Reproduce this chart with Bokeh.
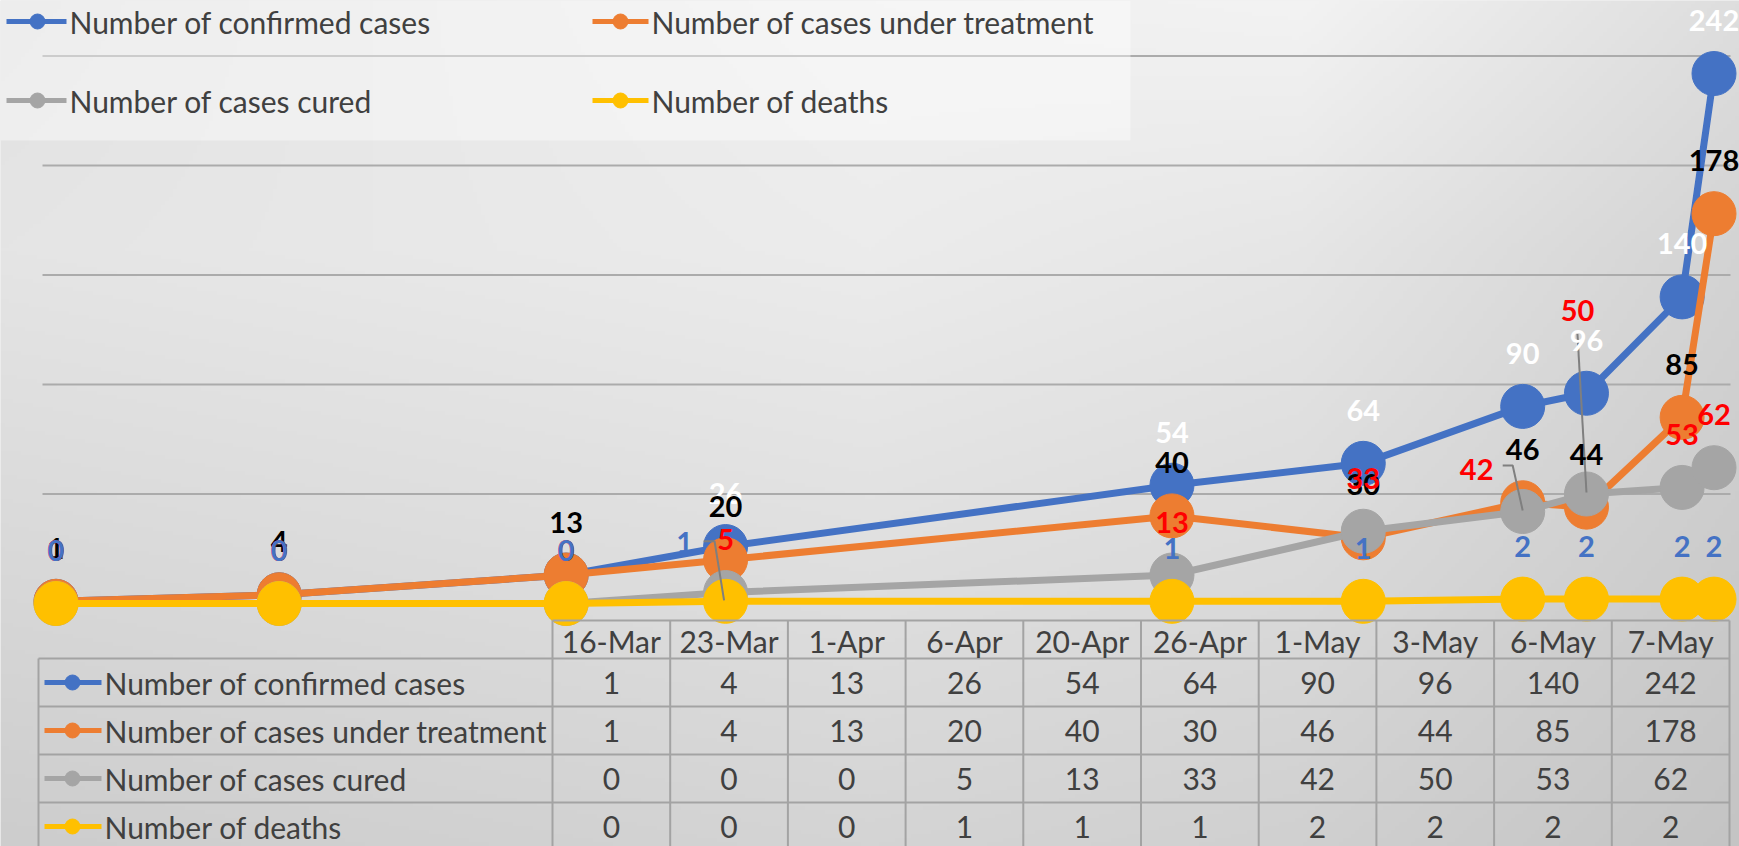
import numpy as np
import pandas as pd
from bokeh.plotting import figure
from bokeh.models import Range1d, ColumnDataSource
from bokeh.core.properties import value
from bokeh.embed import file_html
from bokeh.resources import INLINE

# ---------------- data ----------------
dates = ["2020-03-16", "2020-03-23", "2020-04-01", "2020-04-06", "2020-04-20",
         "2020-04-26", "2020-05-01", "2020-05-03", "2020-05-06", "2020-05-07"]
date_labels = ["16-Mar", "23-Mar", "1-Apr", "6-Apr", "20-Apr",
               "26-Apr", "1-May", "3-May", "6-May", "7-May"]
series_names = ["Number of confirmed cases", "Number of cases under treatment",
                "Number of cases cured", "Number of deaths"]
confirmed = [1, 4, 13, 26, 54, 64, 90, 96, 140, 242]
treatment = [1, 4, 13, 20, 40, 30, 46, 44, 85, 178]
cured = [0, 0, 0, 5, 13, 33, 42, 50, 53, 62]
deaths = [0, 0, 0, 1, 1, 1, 2, 2, 2, 2]
y_ticks = [50, 100, 150, 200, 250]

series = [confirmed, treatment, cured, deaths]

# ---------------- style / layout ----------------
colors = ["#4472C4", "#ED7D31", "#A5A5A5", "#FFC000"]
label_colors = ["#FFFFFF", "#000000", "#FF0000", "#4472C4"]
FONT = "Lato"
TXT = "#404040"
TFS = "30px"

W, H = 1739, 846
PAGE = 0
X0_REF, X1_REF = 55.5, 1713.5
Y0_REF, PXU = 603.0, 2.19

days = (pd.to_datetime(dates) - pd.to_datetime(dates[0])).days.to_numpy().astype(float)
PXD = (X1_REF - X0_REF) / (days[-1] - days[0])
x_start = days[0] - (X0_REF - PAGE) / PXD
x_end = x_start + W / PXD
y_top = (Y0_REF - PAGE) / PXU
y_bot = y_top - H / PXU

p = figure(width=W, height=H, output_backend="svg", toolbar_location=None,
           x_range=Range1d(x_start, x_end), y_range=Range1d(y_bot, y_top),
           x_axis_location=None, y_axis_location=None, min_border=0,
           outline_line_color=None, background_fill_color="#e4e4e4",
           border_fill_color="#e4e4e4")
p.grid.visible = False
p.extra_x_ranges = {"px": Range1d(PAGE, PAGE + W), "fx": Range1d(0, W)}
p.extra_y_ranges = {"px": Range1d(PAGE + H, PAGE), "fy": Range1d(0, H)}

# ---------------- background gradient ----------------
GW, GH = 435, 212
gx = [0, 870, 1300, 1739]
gy = [0, 250, 846]
B = np.array([[226, 240, 243, 222],
              [229, 236, 230, 211],
              [205, 212, 208, 196]], float)
xs = PAGE + (np.arange(GW) + 0.5) * W / GW
ys = PAGE + H - (np.arange(GH) + 0.5) * H / GH
rows = np.array([np.interp(xs, gx, b) for b in B])
img_b = np.empty((GH, GW))
for i in range(GW):
    img_b[:, i] = np.interp(ys, gy, rows[:, i])
img = np.empty((GH, GW), dtype=np.uint32)
view = img.view(dtype=np.uint8).reshape((GH, GW, 4))
g8 = np.clip(img_b, 0, 255).astype(np.uint8)
view[..., 0] = g8
view[..., 1] = g8
view[..., 2] = g8
view[..., 3] = 255
p.image_rgba(image=[img], x=0, y=0, dw=W, dh=H, x_range_name="fx", y_range_name="fy",
             level="image")

# ---------------- gridlines ----------------
gl0 = (42 - X0_REF) / PXD
gl1 = (1730 - X0_REF) / PXD
p.segment(x0=[gl0] * len(y_ticks), y0=y_ticks, x1=[gl1] * len(y_ticks), y1=y_ticks,
          line_color="#ababab", line_width=2)

# legend overlay box
p.quad(left=[PAGE], right=[1130], top=[PAGE], bottom=[140], fill_color="white",
       fill_alpha=0.4, line_color=None, x_range_name="px", y_range_name="px")

# ---------------- series ----------------
for vals, c in zip(series, colors):
    p.line(days, vals, line_width=7, line_color=c, line_join="round")
    p.scatter(days, vals, size=44, fill_color=c, line_color=c)

# ---------------- leader lines ----------------
# pixel offsets relative to the point (series index, point index)
leaders = {
    (3, 3): [(-22, -60), (-11, -60), (-1.5, -1)],
    (2, 6): [(-20, -46), (-10, -46), (0, -1)],
    (2, 7): [(-9, -160), (0, -1.5)],
}
lx, ly = [], []
for (s, i), pts in leaders.items():
    lx.append([days[i] + ox / PXD for ox, oy in pts])
    ly.append([series[s][i] - oy / PXU for ox, oy in pts])
p.multi_line(lx, ly, line_color="#7f7f7f", line_width=2)

# ---------------- data labels ----------------
moved = {(2, 7): (-9, -184), (2, 6): (-46, -42), (3, 3): (-41, -59)}
for s, (vals, lc) in enumerate(zip(series, label_colors)):
    xo, yo = [], []
    for i in range(len(vals)):
        dx, dy = moved.get((s, i), (0, -53))
        xo.append(dx)
        yo.append(dy)
    src = ColumnDataSource(dict(x=days, y=vals, t=[str(v) for v in vals], xo=xo, yo=yo))
    p.text(x="x", y="y", text="t", x_offset="xo", y_offset="yo", source=src,
           text_font=value(FONT), text_font_style="bold", text_font_size="29px",
           text_color=lc, text_align="center", text_baseline="middle")

# ---------------- top legend ----------------
leg_col_line = [(6, 66, 37), (592, 648, 620)]
leg_col_text = [69, 651]
leg_row_y = [21, 100]
for k, (name, c) in enumerate(zip(series_names, colors)):
    col, row = k % 2, k // 2
    x0, x1, xc = leg_col_line[col]
    yy = leg_row_y[row]
    p.segment(x0=[x0], y0=[yy], x1=[x1], y1=[yy], line_color=c, line_width=5,
              x_range_name="px", y_range_name="px")
    p.scatter(x=[xc], y=[yy], size=15, fill_color=c, line_color=c,
              x_range_name="px", y_range_name="px")
    p.text(x=[leg_col_text[col]], y=[yy], text=[name], text_font=value(FONT),
           text_font_size=TFS, text_color=TXT, text_align="left",
           text_baseline="middle", x_range_name="px", y_range_name="px")

# ---------------- data table ----------------
T_LEFT, T_COL0, T_COLW = 38, 552, 117.7
T_TOP, T_HDR, T_ROWH = 620, 658, 48
ncol = len(date_labels)
T_RIGHT = T_COL0 + ncol * T_COLW
T_BOT = T_HDR + 4 * T_ROWH
grid_c = "#a3a3a3"
# horizontal lines
hx0 = [T_COL0] + [T_LEFT] * 5
hx1 = [T_RIGHT] * 6
hy = [T_TOP] + [T_HDR + r * T_ROWH for r in range(5)]
p.segment(x0=hx0, y0=hy, x1=hx1, y1=hy, line_color=grid_c, line_width=2,
          x_range_name="px", y_range_name="px")
# vertical lines
vx = [T_LEFT] + [T_COL0 + j * T_COLW for j in range(ncol + 1)]
vy0 = [T_HDR] + [T_TOP] * (ncol + 1)
p.segment(x0=vx, y0=vy0, x1=vx, y1=[T_BOT] * len(vx), line_color=grid_c, line_width=2,
          x_range_name="px", y_range_name="px")
# header
cx = [T_COL0 + (j + 0.5) * T_COLW for j in range(ncol)]
p.text(x=cx, y=[(T_TOP + T_HDR) / 2 + 1] * ncol, text=date_labels, text_font=value(FONT),
       text_font_size=TFS, text_color=TXT, text_align="center", text_baseline="middle",
       x_range_name="px", y_range_name="px")
# rows
for r, (name, vals, c) in enumerate(zip(series_names, series, colors)):
    yy = T_HDR + (r + 0.5) * T_ROWH
    p.segment(x0=[44], y0=[yy], x1=[101], y1=[yy], line_color=c, line_width=5,
              x_range_name="px", y_range_name="px")
    p.scatter(x=[72], y=[yy], size=15, fill_color=c, line_color=c,
              x_range_name="px", y_range_name="px")
    p.text(x=[104], y=[yy], text=[name], text_font=value(FONT), text_font_size=TFS,
           text_color=TXT, text_align="left", text_baseline="middle",
           x_range_name="px", y_range_name="px")
    p.text(x=cx, y=[yy] * ncol, text=[str(v) for v in vals], text_font=value(FONT),
           text_font_size=TFS, text_color=TXT, text_align="center",
           text_baseline="middle", x_range_name="px", y_range_name="px")

open("out.html", "w").write(file_html(p, INLINE))
